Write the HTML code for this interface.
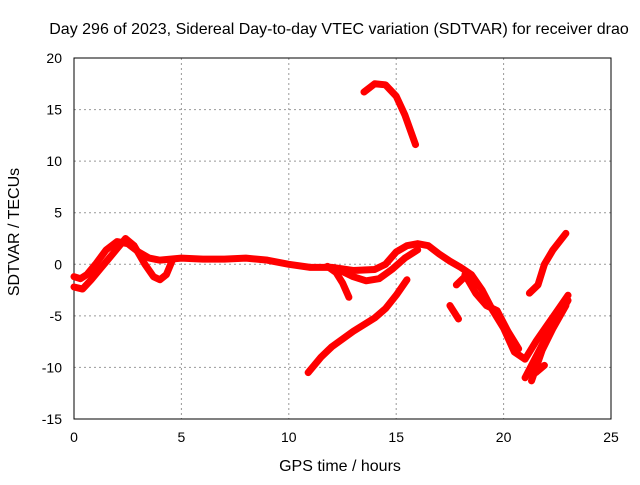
<!DOCTYPE html>
<html><head><meta charset="utf-8"><style>
body{margin:0;background:#fff}
svg text{font-family:"Liberation Sans",sans-serif;font-size:14px;fill:#000}
svg text.big{font-size:16px}
</style></head><body>
<svg id="c" width="640" height="480"></svg>
<script>
const xTicks=[0,5,10,15,20,25];
const yTicks=[20,15,10,5,0,-5,-10,-15];
const trackMain=[[0,-1.2],[0.3,-1.4],[0.6,-1],[1,0],[1.5,1.4],[2,2.2],[2.5,2],[3,1.2],[3.5,0.6],[4,0.4],[5,0.6],[6,0.5],[7,0.5],[8,0.6],[9,0.4],[10,0],[11,-0.3],[12,-0.3],[13,-0.6],[14,-0.5],[14.5,0],[15,1.2],[15.5,1.8],[16,2],[16.5,1.8],[17,1],[17.5,0.3],[18,-0.3],[18.5,-1],[19,-2.5],[19.5,-4.5],[20,-6.2],[20.5,-8.5],[21,-9.2],[21.5,-7.5],[22,-6],[22.5,-4.5],[23,-3]];
const trackLow=[[0,-2.2],[0.4,-2.4],[0.8,-1.5],[1.2,-0.5],[1.6,0.5],[2,1.5],[2.4,2.5],[2.8,1.8],[3.3,0],[3.7,-1.2],[4,-1.5],[4.3,-1],[4.6,0.5]];
const trackRise=[[10.9,-10.5],[11.5,-9],[12,-8],[13,-6.5],[14,-5.2],[14.5,-4.3],[15,-3],[15.5,-1.5]];
const trackTop=[[13.5,16.7],[14,17.5],[14.5,17.4],[15,16.3],[15.4,14.5],[15.9,11.6]];
const trackDip=[[11.8,-0.2],[12.2,-0.8],[12.5,-1.8],[12.8,-3.2]];
const trackDip2=[[12.3,-0.5],[13,-1.2],[13.6,-1.6],[14.2,-1.4],[14.8,-0.5],[15.4,0.6],[16,1.4]];
const trackRight=[[21.2,-2.8],[21.6,-2],[21.9,0],[22.3,1.4],[22.9,3]];
const trackDrop1=[[21,-11],[21.5,-9],[22,-7],[22.5,-5.2],[23,-3.5]];
const trackDrop2=[[21.3,-11.3],[21.8,-8.3],[22.3,-6.2],[22.9,-4]];
const trackDrop3=[[21.5,-10.5],[21.9,-9.8]];
const trackSeg=[[17.5,-4],[17.9,-5.3]];
const trackSeg2=[[17.8,-2],[18.2,-1.2]];
const trackBand=[[18.2,-1],[18.7,-2.8],[19.2,-4],[19.7,-4.5],[20.2,-6.5],[20.7,-8.2]];
const tracks=[trackMain,trackLow,trackRise,trackTop,trackDip,trackDip2,trackRight,trackDrop1,trackDrop2,trackDrop3,trackSeg,trackSeg2,trackBand];
const L=74,R=611,T=58,B=419;
const xs=h=>L+(h-0)/25*(R-L);
const ys=v=>T+(20-v)/35*(B-T);
const ns="http://www.w3.org/2000/svg";
const svg=document.getElementById('c');
function mk(t,a){const e=document.createElementNS(ns,t);for(const k in a)e.setAttribute(k,a[k]);svg.appendChild(e);return e;}
xTicks.forEach(t=>{
 if(t>0&&t<25){const g=mk('line',{x1:xs(t),x2:xs(t),y1:T,y2:B,stroke:'#999','stroke-dasharray':'2,3'});
 
 }
 const e=mk('text',{x:xs(t),y:B+23,'text-anchor':'middle'});e.textContent=t;
 
 
});
yTicks.forEach(t=>{
 if(t<20&&t>-15){const g=mk('line',{x1:L,x2:R,y1:ys(t),y2:ys(t),stroke:'#999','stroke-dasharray':'2,3'});
 
 }
 const e=mk('text',{x:L-12,y:ys(t)+5,'text-anchor':'end'});e.textContent=t;
 
 
});
const fr=mk('rect',{x:L,y:T,width:R-L,height:B-T,fill:'none',stroke:'#000'});


tracks.forEach(tr=>{
 const p=mk('polyline',{points:tr.map(d=>xs(d[0])+','+ys(d[1])).join(' '),fill:'none',stroke:'#f00','stroke-width':7,'stroke-linejoin':'round','stroke-linecap':'round'});
 
 
});
const ti=mk('text',{x:339,y:34,'text-anchor':'middle','class':'big'});ti.textContent='Day 296 of 2023, Sidereal Day-to-day VTEC variation (SDTVAR) for receiver drao';


const xt=mk('text',{x:340,y:471,'text-anchor':'middle','class':'big'});xt.textContent='GPS time / hours';


const yt=mk('text',{x:0,y:0,'text-anchor':'middle','class':'big',transform:'translate(19,232) rotate(-90)'});yt.textContent='SDTVAR / TECUs';


</script>
</body></html>
